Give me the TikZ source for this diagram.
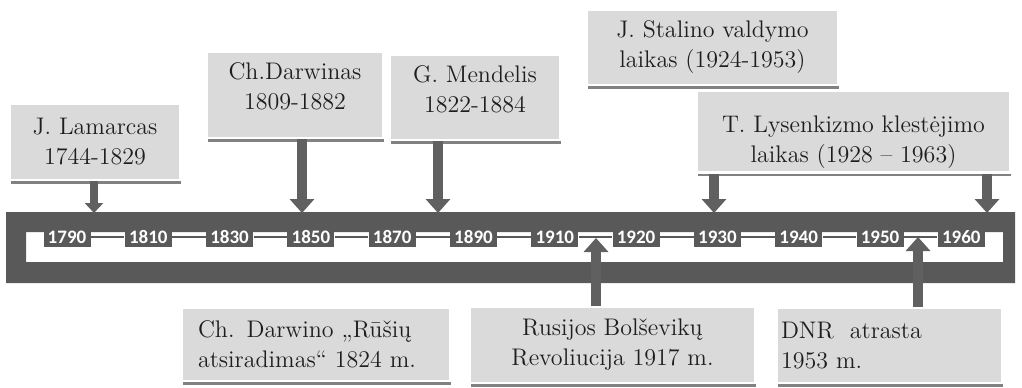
\documentclass[tikz,border=0pt]{standalone}
\usepackage{fontspec}
\newfontfamily\yearfont{Carlito}
\usetikzlibrary{arrows.meta, shadows}
\definecolor{bandgray}{RGB}{89,89,89}
\definecolor{arrowgray}{RGB}{96,96,96}
\definecolor{boxgray}{RGB}{218,218,218}
\definecolor{inkgray}{RGB}{30,30,30}
\tikzstyle{event} = [rectangle, fill=boxgray, draw=white, line width=1.2pt, text=inkgray, align=center, inner sep=2pt, font=\fontsize{12}{15}\selectfont, drop shadow={shadow xshift=0.6pt, shadow yshift=-1.8pt, fill=black!55, opacity=0.9}]
\tikzstyle{yearbox} = [rectangle, fill=bandgray, text=white, inner sep=0pt, minimum width=23.5pt, minimum height=10pt, font=\yearfont\bfseries\fontsize{9.5}{10}\selectfont]
\tikzstyle{blockarrow} = [arrowgray, line width=5pt, -{Triangle[width=12pt,length=7pt]}]
\tikzstyle{smallarrow} = [arrowgray, line width=4pt, -{Triangle[width=9pt,length=5pt]}]
\tikzstyle{yearline} = [bandgray, line width=0.8pt]

\begin{document}
\begin{tikzpicture}[x=0.5pt, y=-0.5pt]
        \useasboundingbox (0,0) rectangle (1022,387);
        % timeline frame
        \fill[bandgray, even odd rule] (6,212) rectangle (1015,283) (26,232) rectangle (1003,262);
        \foreach \yr [count=\i from 0, remember=\yr as \prev (initially 1790)] in {1790,1810,1830,1850,1870,1890,1910,1920,1930,1940,1950,1960} {
            \node [yearbox] (y\yr) at (67+81.3*\i,237) {\yr};
            \ifnum\i>0 \draw [yearline] (y\prev.east) -- (y\yr.west); \fi
        }
        % events above
        \node [event, minimum width=85pt, minimum height=38pt] (lamarck) at (95,142) {J. Lamarcas\\1744-1829};
        \node [event, minimum width=88pt, minimum height=43pt, text depth=8.5pt] (darwin) at (295,95) {Ch.Darwinas\\1809-1882};
        \node [event, minimum width=85pt, minimum height=42.5pt, text depth=8.5pt] (mendel) at (475,97.5) {G. Mendelis\\1822-1884};
        \node [event, minimum width=125.5pt, minimum height=37.5pt] (stalin) at (712.5,47.5) {J. Stalino valdymo\\laikas (1924-1953)};
        \node [event, minimum width=156.5pt, minimum height=38.5pt, text height=34pt] (lysenko) at (853.5,131.5) {T. Lysenkizmo klestėjimo\\laikas (1928 -- 1963)};
        % events below
        \node [event, minimum width=134pt, minimum height=36.5pt, align=left, text width=118pt, inner xsep=8pt] (origin) at (316,344.5) {Ch. Darwino „Rūšių\\atsiradimas“ 1824 m.};
        \node [event, minimum width=142.5pt, minimum height=38pt] (revolution) at (612.5,345) {Rusijos Bolševikų\\Revoliucija 1917 m.};
        \node [event, minimum width=112.5pt, minimum height=37.5pt, align=left, text width=108.5pt, inner xsep=2pt] (dna) at (889.5,345.5) {DNR\ \ atrasta\\1953 m.};
        % arrow ends on the frame
        \coordinate (t1744) at (94,213);
        \coordinate (t1850) at (302,213);
        \coordinate (t1870) at (438,213);
        \coordinate (t1928) at (714,213);
        \coordinate (t1963) at (987,213);
        \coordinate (u1917) at (596,238);
        \coordinate (u1953) at (918,237);
        \draw [smallarrow] (t1744 |- lamarck.south) -- (t1744);
        \draw [blockarrow] (t1850 |- darwin.south) -- (t1850);
        \draw [blockarrow] (t1870 |- mendel.south) -- (t1870);
        \draw [blockarrow] (t1928 |- lysenko.south) -- (t1928);
        \draw [blockarrow] (t1963 |- lysenko.south) -- (t1963);
        \draw [blockarrow] (u1917 |- revolution.north) -- (u1917);
        \draw [blockarrow] (u1953 |- dna.north) -- (u1953);
\end{tikzpicture}
\end{document}
